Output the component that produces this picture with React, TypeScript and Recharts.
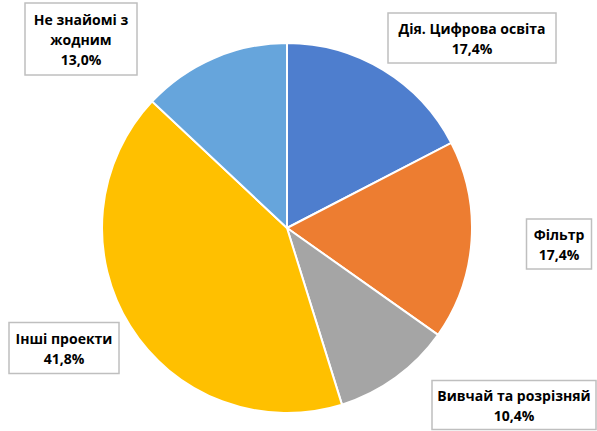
import React from 'react';
import { PieChart, Pie, Cell } from 'recharts';

const categories = ['Дія. Цифрова освіта', 'Фільтр', 'Вивчай та розрізняй', 'Інші проекти', 'Не знайомі з жодним'];
const shares = [17.4, 17.4, 10.4, 41.8, 13.0];
const labelLines = [
  ['Дія. Цифрова освіта'],
  ['Фільтр'],
  ['Вивчай та розрізняй'],
  ['Інші проекти'],
  ['Не знайомі з', 'жодним'],
];
const colors = ['#4E7ECE', '#ED7D31', '#A5A5A5', '#FFC000', '#66A5DC'];

// label box centre offsets from pie centre, and box sizes
const labelLayout = [
  { dx: 185, dy: -190, w: 168, h: 50 },
  { dx: 272, dy: 16, w: 65, h: 50 },
  { dx: 227, dy: 177, w: 164, h: 49 },
  { dx: -223, dy: 120, w: 110, h: 51 },
  { dx: -206, dy: -189, w: 112, h: 72 },
];

const data = categories.map((name, i) => ({ name, value: shares[i] }));

const fmt = (v: number) => v.toFixed(1).replace('.', ',') + '%';

const renderLabel = (props: any) => {
  const { cx, cy, index } = props;
  const l = labelLayout[index];
  const x = cx + l.dx;
  const y = cy + l.dy;
  const lines = [...labelLines[index], fmt(shares[index])];
  const lh = 20;
  const top = y - ((lines.length - 1) * lh) / 2;
  return (
    <g key={index}>
      <rect x={x - l.w / 2} y={y - l.h / 2} width={l.w} height={l.h} fill="#fff" stroke="#BFBFBF" strokeWidth={1.5} />
      {lines.map((t, j) => (
        <text key={j} x={x} y={top + j * lh} textAnchor="middle" dominantBaseline="central"
          fontFamily="'Open Sans', sans-serif" fontWeight="bold" fontSize={14} fill="#000">
          {t}
        </text>
      ))}
    </g>
  );
};

export default function App() {
  return (
    <div style={{ position: 'absolute', left: 0, top: 0, width: 597, height: 431, background: '#fff' }}>
      <PieChart width={597} height={431} margin={{ top: 0, right: 0, bottom: 0, left: 0 }}>
        <Pie
          data={data}
          dataKey="value"
          cx={287}
          cy={228}
          outerRadius={185}
          startAngle={90}
          endAngle={-270}
          stroke="#fff"
          strokeWidth={2}
          label={renderLabel}
          labelLine={false}
          isAnimationActive={false}
        >
          {data.map((d, i) => (
            <Cell key={d.name} fill={colors[i]} />
          ))}
        </Pie>
      </PieChart>
    </div>
  );
}
